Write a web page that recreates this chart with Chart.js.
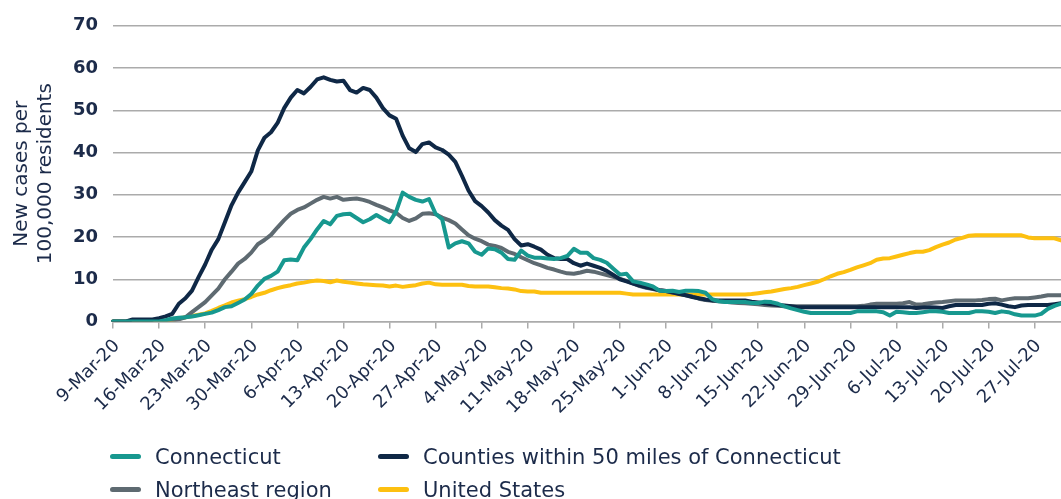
<!DOCTYPE html>
<html>
<head>
<meta charset="utf-8">
<script src="https://cdn.jsdelivr.net/npm/chart.js@4.4.0/dist/chart.umd.min.js"></script>
<style>
  body { margin: 0; background: #fff; }
  #wrap { position: relative; width: 1061px; height: 499px; overflow: hidden; }
  #legend {
    position: absolute; left: 110px; top: 440px;
    display: grid; grid-template-columns: 268px auto;
    font-family: "DejaVu Sans"; font-size: 21px; color: #1c2b4a;
  }
  .item { display: flex; align-items: center; height: 33px; white-space: nowrap; }
  .swatch { width: 31px; height: 5px; border-radius: 3px; margin-right: 14px; }
</style>
</head>
<body>
<div id="wrap">
  <canvas id="chart" width="1061" height="499"></canvas>
  <div id="legend"></div>
</div>
<script>
// daily values from 9-Mar-20 to 31-Jul-20 (7-day averages, per 100k)
const connecticut = [
  0,0,0,0,0,0,0,0,
  0.3,0.7,0.9,1,1.2,1.5,1.8,
  2.1,2.7,3.4,3.6,4.4,5.2,6.5,
  8.5,10.1,10.8,11.8,14.5,14.7,14.5,
  17.5,19.5,21.8,23.8,23,25,25.4,
  25.5,24.5,23.5,24.2,25.2,24.3,23.5,
  26,30.5,29.5,28.8,28.4,29,25.5,
  24.2,17.5,18.5,19,18.5,16.5,15.8,
  17.3,17.1,16.3,14.8,14.6,16.8,15.6,
  15.1,15.1,14.9,14.8,15,15.5,17.2,
  16.3,16.3,15,14.6,13.9,12.5,11.1,
  11.3,9.5,9.2,8.8,8.3,7.3,7.2,
  7.3,7,7.3,7.3,7.2,6.8,5.3,
  4.8,4.6,4.6,4.6,4.6,4.4,4.4,
  4.7,4.6,4.2,3.6,3.1,2.7,2.3,
  2,2,2,2,2,2,2,
  2.4,2.4,2.4,2.4,2.2,1.4,2.3,
  2.2,2,2,2.2,2.4,2.4,2.3,
  2,2,2,2,2.4,2.4,2.3,
  2,2.4,2.2,1.7,1.4,1.4,1.4,
  1.8,3,3.7,4.2
];
const counties50mi = [
  0,0,0,0.5,0.5,0.5,0.5,
  0.8,1.2,1.8,4.2,5.5,7.3,10.5,
  13.5,17,19.5,23.5,27.5,30.5,33,
  35.5,40.5,43.5,44.8,47,50.5,53,
  54.8,54,55.5,57.3,57.8,57.2,56.8,
  57,54.8,54.2,55.3,54.8,53,50.5,
  48.8,48,44,41,40.1,42,42.4,
  41.2,40.6,39.5,37.8,34.5,31,28.5,
  27.3,25.8,24,22.7,21.7,19.5,18,
  18.3,17.7,17,15.8,15,14.8,14.8,
  13.8,13.2,13.7,13.2,12.7,12,11,
  10,9.5,9,8.5,8.1,7.8,7.4,
  7.2,6.9,6.5,6.2,5.8,5.5,5.2,
  5,5,5,5,5,5,4.7,
  4.5,4.3,4.1,3.9,3.8,3.6,3.4,
  3.4,3.4,3.4,3.4,3.4,3.4,3.4,
  3.4,3.4,3.4,3.4,3.4,3.4,3.4,
  3.4,3.4,3.4,3.2,3.3,3.4,3.3,
  3.2,3.6,3.9,3.9,3.9,3.9,3.9,
  4.2,4.3,4,3.6,3.4,3.8,3.9,
  3.9,3.9,3.9,4.1,4.3
];
const northeast = [
  0,0,0,0,0,0,0,0,0,
  0.2,0.5,1,2.2,3.4,4.6,6.2,
  7.8,10,11.8,13.7,14.8,16.3,18.3,
  19.3,20.5,22.3,24,25.5,26.4,27,
  27.9,28.8,29.5,29.1,29.5,28.8,29,
  29.1,28.8,28.3,27.6,27,26.3,25.7,
  24.5,23.8,24.4,25.5,25.6,25.4,24.6,
  24,23.2,21.8,20.4,19.6,19,18.2,
  17.9,17.4,16.5,16,15.2,14.5,13.8,
  13.3,12.7,12.3,11.8,11.4,11.3,11.6,
  12,11.8,11.4,11,10.6,10.1,9.6,
  9,8.4,8,7.7,7.4,7.2,6.8,
  6.6,6.2,5.9,5.4,5.1,4.9,4.8,
  4.7,4.5,4.4,4.3,4.2,4.1,3.9,
  3.8,3.7,3.6,3.6,3.6,3.6,3.6,
  3.6,3.6,3.6,3.6,3.6,3.6,3.6,
  3.7,4,4.2,4.2,4.2,4.2,4.3,
  4.6,4,4.1,4.3,4.5,4.6,4.8,
  5,5,5,5,5.1,5.3,5.4,
  5,5.3,5.5,5.5,5.5,5.7,5.9,
  6.2,6.2,6.2
];
const unitedStates = [
  0,0,0,0,0,0,0,0,
  0.2,0.4,0.7,1,1.3,1.6,1.9,
  2.5,3.2,3.8,4.5,4.9,5.3,5.8,
  6.4,6.8,7.4,7.9,8.3,8.6,9,
  9.2,9.5,9.7,9.6,9.3,9.7,9.4,
  9.2,9,8.8,8.7,8.6,8.5,8.3,
  8.5,8.2,8.4,8.6,9,9.2,8.8,
  8.7,8.7,8.7,8.7,8.4,8.3,8.3,
  8.3,8.1,7.9,7.8,7.6,7.2,7.1,
  7.1,6.8,6.8,6.8,6.8,6.8,6.8,
  6.8,6.8,6.8,6.8,6.8,6.8,6.8,
  6.6,6.4,6.4,6.4,6.4,6.4,6.4,
  6.4,6.4,6.4,6.4,6.4,6.4,6.4,
  6.4,6.4,6.4,6.4,6.4,6.5,6.7,
  6.9,7.1,7.4,7.7,7.9,8.2,8.6,
  9,9.4,10,10.7,11.3,11.7,12.2,
  12.8,13.3,13.8,14.6,14.9,15,15.4,
  15.8,16.2,16.5,16.5,16.9,17.6,18.2,
  18.7,19.4,19.8,20.3,20.4,20.4,20.4,
  20.4,20.4,20.4,20.4,20.4,19.9,19.7,
  19.7,19.7,19.7,19.2
];

const seriesNames = ['Connecticut', 'Counties within 50 miles of Connecticut', 'Northeast region', 'United States'];
const seriesColors = ['#17988f', '#0f2846', '#5e6a71', '#fdc010'];
const yTitle = ['New cases per', '100,000 residents'];

// category labels, one per day
const monthNames = ['Jan','Feb','Mar','Apr','May','Jun','Jul','Aug','Sep','Oct','Nov','Dec'];
const dates = [];
for (let i = 0; i < connecticut.length; i++) {
  const d = new Date(2020, 2, 9 + i);
  dates.push(d.getDate() + '-' + monthNames[d.getMonth()] + '-20');
}

const navy = '#1c2b4a';
const gridColor = '#ababab';
const fontFamily = '"DejaVu Sans", sans-serif';

const values = [connecticut, counties50mi, northeast, unitedStates];

const chart = new Chart(document.getElementById('chart'), {
  type: 'line',
  data: {
    labels: dates,
    datasets: values.map((v, i) => ({
      label: seriesNames[i],
      data: v,
      borderColor: seriesColors[i],
      backgroundColor: seriesColors[i]
    }))
  },
  options: {
    responsive: false,
    animation: false,
    layout: { padding: { top: 21, right: 0, bottom: 0, left: 0 } },
    elements: {
      point: { radius: 0 },
      line: { borderWidth: 4, tension: 0, borderJoinStyle: 'round', borderCapStyle: 'round' }
    },
    plugins: {
      legend: { display: false },
      tooltip: { enabled: false }
    },
    scales: {
      x: {
        grid: { drawOnChartArea: false, color: gridColor, lineWidth: 1.5, tickLength: 7 },
        border: { color: gridColor, width: 1.5 },
        ticks: {
          autoSkip: false,
          maxRotation: 45,
          minRotation: 45,
          padding: 7,
          labelOffset: 4,
          color: navy,
          font: { family: fontFamily, size: 18 },
          callback: function (val, i) {
            return i % 7 === 0 ? this.getLabelForValue(val) : null;
          }
        },
        afterFit: function (s) {
          s.height = 499 - 321.5;
          s.paddingLeft = 0;
          s.paddingRight = 0;
        }
      },
      y: {
        min: 0,
        max: 70,
        ticks: {
          stepSize: 10,
          padding: 15,
          color: navy,
          font: { family: fontFamily, size: 18, weight: 'bold' }
        },
        grid: { color: gridColor, lineWidth: 1.5, drawTicks: false },
        border: { display: false },
        title: {
          display: true,
          text: yTitle,
          color: navy,
          font: { family: fontFamily, size: 20 },
          padding: { top: 10, bottom: 0 }
        },
        afterFit: function (s) { s.width = 113; }
      }
    }
  }
});

// legend in two aligned columns
const legend = document.getElementById('legend');
chart.data.datasets.forEach(ds => {
  const item = document.createElement('div');
  item.className = 'item';
  const sw = document.createElement('span');
  sw.className = 'swatch';
  sw.style.background = ds.borderColor;
  item.appendChild(sw);
  item.appendChild(document.createTextNode(ds.label));
  legend.appendChild(item);
});
</script>
</body>
</html>
